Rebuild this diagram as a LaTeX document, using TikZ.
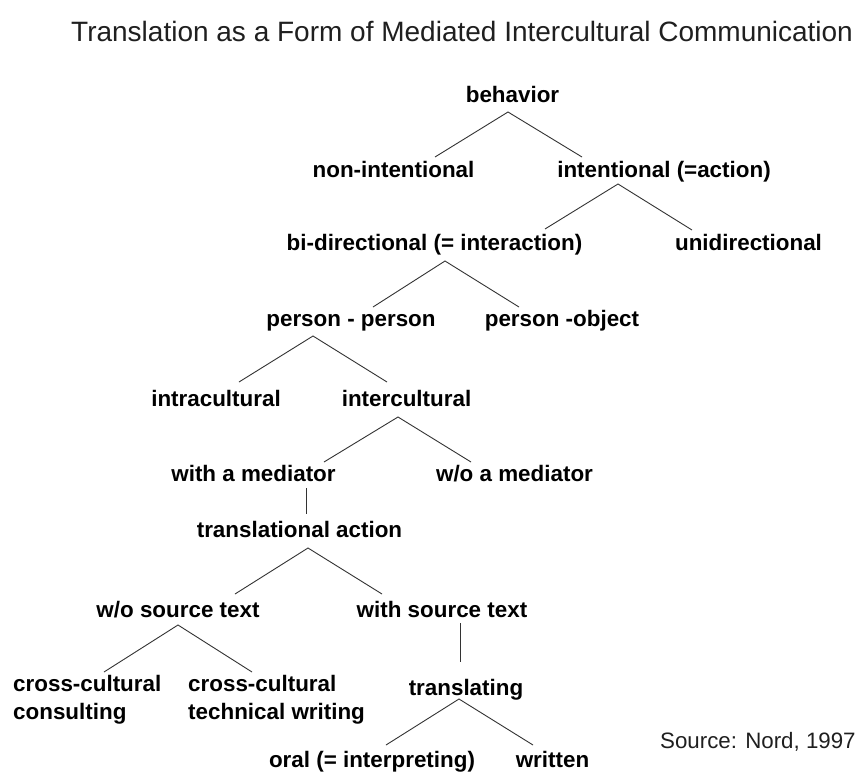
\documentclass[tikz,border=0pt]{standalone}
\usepackage{fontspec}
\setmainfont{Liberation Sans}
\begin{document}
\begin{tikzpicture}[x=1pt,y=-1pt,
  lbl/.style={font=\fontsize{22.4}{28}\selectfont\bfseries, inner sep=0pt, anchor=base, text=black},
  lblw/.style={lbl, anchor=base west},
  edge/.style={draw=black!80, line width=0.9pt},
  plain/.style={inner sep=0pt, text=black!88}]
\useasboundingbox (0,0) rectangle (855,772);
\fill[white] (0,0) rectangle (855,772);

\node[plain, anchor=base west, font=\fontsize{28}{32}\selectfont] (title) at (71,41) {Translation as a Form of Mediated Intercultural Communication};
\node[plain, anchor=base west, font=\fontsize{22.3}{26}\selectfont] (src) at (660,748) {Source: Nord, 1997};

\node[lbl] (beh) at (512.5,102) {behavior};
\node[lbl] (nonint) at (393.5,177) {non-intentional};
\node[lbl] (int) at (664,177) {intentional (=action)};
\node[lbl] (bidir) at (434.5,250.5) {bi-directional (= interaction)};
\node[lbl] (unidir) at (748.5,250.5) {unidirectional};
\node[lbl] (pp) at (351,326.5) {person - person};
\node[lbl] (po) at (562,326.5) {person -object};
\node[lbl] (intra) at (216,406) {intracultural};
\node[lbl] (inter) at (406.5,406) {intercultural};
\node[lbl] (withmed) at (253.5,481.5) {with a mediator};
\node[lbl] (womed) at (514.5,481.5) {w/o a mediator};
\node[lbl] (ta) at (299.5,537) {translational action};
\node[lbl] (wost) at (178,617) {w/o source text};
\node[lbl] (wst) at (442,617) {with source text};
\node[lblw] (ccc) at (13,691) {\begin{tabular}[t]{@{}l@{}}cross-cultural\\consulting\end{tabular}};
\node[lblw] (cctw) at (188,691) {\begin{tabular}[t]{@{}l@{}}cross-cultural\\technical writing\end{tabular}};
\node[lbl] (transl) at (466,695) {translating};
\node[lbl] (oral) at (372,767.5) {oral (= interpreting)};
\node[lbl] (written) at (552.5,767.5) {written};

% behavior
\draw[edge] ([shift={(41.5,-20)}]nonint.base) -- ([shift={(-4.5,10)}]beh.base) -- ([shift={(-82,-20)}]int.base);
% intentional
\draw[edge] ([shift={(110.5,-21.5)}]bidir.base) -- ([shift={(-46,7)}]int.base) -- ([shift={(-56.5,-20.5)}]unidir.base);
% bi-directional
\draw[edge] ([shift={(22,-19.5)}]pp.base) -- ([shift={(10.5,10.5)}]bidir.base) -- ([shift={(-43,-19.5)}]po.base);
% person - person
\draw[edge] ([shift={(23,-24)}]intra.base) -- ([shift={(-38,9.5)}]pp.base) -- ([shift={(-19.5,-24)}]inter.base);
% intercultural
\draw[edge] ([shift={(70.5,-19.5)}]withmed.base) -- ([shift={(-8.5,11)}]inter.base) -- ([shift={(-43.5,-19.5)}]womed.base);
% with a mediator
\draw[edge] ([shift={(52.5,6.5)}]withmed.base) -- ([shift={(6.5,-23)}]ta.base);
% translational action
\draw[edge] ([shift={(57,-23)}]wost.base) -- ([shift={(8.5,11)}]ta.base) -- ([shift={(-60,-23)}]wst.base);
% w/o source text
\draw[edge] ([shift={(91,-19)}]ccc.base west) -- ([shift={(0,8)}]wost.base) -- ([shift={(64,-19)}]cctw.base west);
% with source text
\draw[edge] ([shift={(18,6)}]wst.base) -- ([shift={(-6,-33)}]transl.base);
% translating
\draw[edge] ([shift={(14,-22.5)}]oral.base) -- ([shift={(-7,4)}]transl.base) -- ([shift={(-19.5,-22.5)}]written.base);
\end{tikzpicture}
\end{document}
